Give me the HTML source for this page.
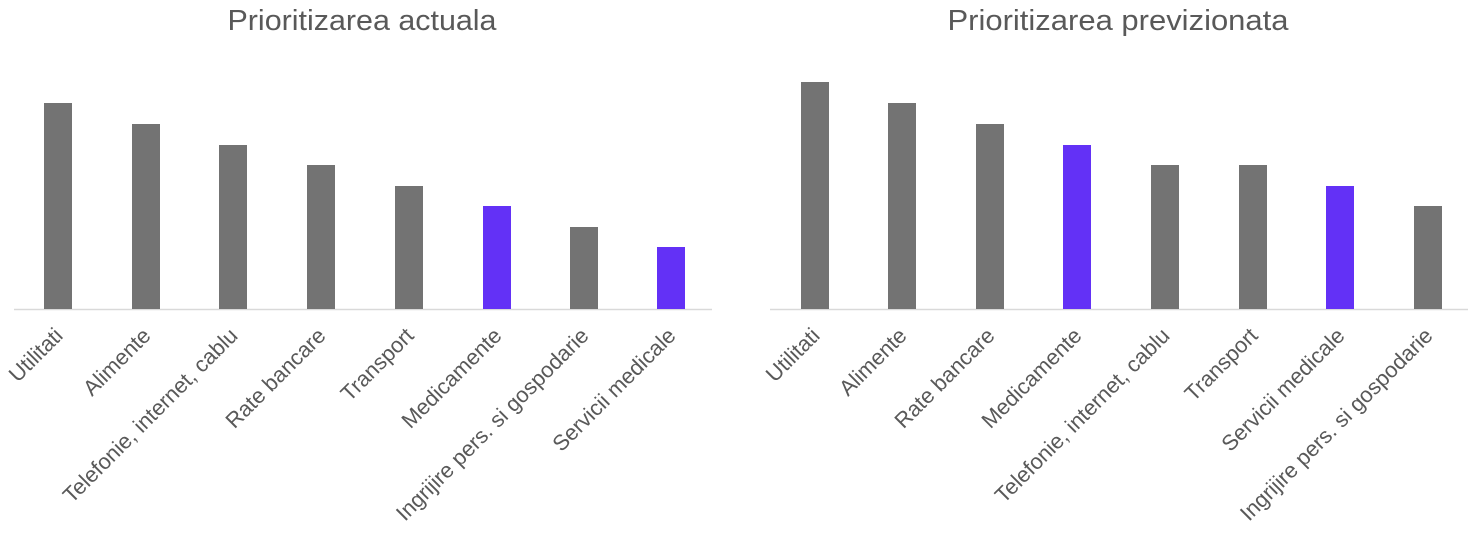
<!DOCTYPE html>
<html><head><meta charset="utf-8"><style>
html,body{margin:0;padding:0;background:#fff;}
svg{display:block;}
text{font-family:"Liberation Sans",sans-serif;fill:#595959;}
</style></head><body>
<svg width="1478" height="535" viewBox="0 0 1478 535">
<text x="362" y="30" font-size="29" text-anchor="middle" textLength="269" lengthAdjust="spacingAndGlyphs">Prioritizarea actuala</text>
<line x1="14" y1="309.5" x2="712" y2="309.5" stroke="#d9d9d9" stroke-width="1.5"/>
<g fill="#737373">
<rect x="44" y="103" width="28" height="206"/>
<rect x="132" y="124" width="28" height="185"/>
<rect x="219" y="145" width="28" height="164"/>
<rect x="307" y="165" width="28" height="144"/>
<rect x="395" y="186" width="28" height="123"/>
<rect x="483" y="206" width="28" height="103" fill="#6331F6"/>
<rect x="570" y="227" width="28" height="82"/>
<rect x="657" y="247" width="28" height="62" fill="#6331F6"/>
</g>
<g font-size="21.8" text-anchor="end">
<text transform="translate(64,337) rotate(-45)">Utilitati</text>
<text transform="translate(152,337) rotate(-45)">Alimente</text>
<text transform="translate(239,337) rotate(-45)">Telefonie, internet, cablu</text>
<text transform="translate(327,337) rotate(-45)">Rate bancare</text>
<text transform="translate(415,337) rotate(-45)">Transport</text>
<text transform="translate(503,337) rotate(-45)">Medicamente</text>
<text transform="translate(590,337) rotate(-45)">Ingrijire pers. si gospodarie</text>
<text transform="translate(677,337) rotate(-45)">Servicii medicale</text>
</g>
<text x="1118" y="30" font-size="29" text-anchor="middle" textLength="341" lengthAdjust="spacingAndGlyphs">Prioritizarea previzionata</text>
<line x1="770" y1="309.5" x2="1468" y2="309.5" stroke="#d9d9d9" stroke-width="1.5"/>
<g fill="#737373">
<rect x="801" y="82" width="28" height="227"/>
<rect x="888" y="103" width="28" height="206"/>
<rect x="976" y="124" width="28" height="185"/>
<rect x="1063" y="145" width="28" height="164" fill="#6331F6"/>
<rect x="1151" y="165" width="28" height="144"/>
<rect x="1239" y="165" width="28" height="144"/>
<rect x="1326" y="186" width="28" height="123" fill="#6331F6"/>
<rect x="1414" y="206" width="28" height="103"/>
</g>
<g font-size="21.8" text-anchor="end">
<text transform="translate(821,337) rotate(-45)">Utilitati</text>
<text transform="translate(908,337) rotate(-45)">Alimente</text>
<text transform="translate(996,337) rotate(-45)">Rate bancare</text>
<text transform="translate(1083,337) rotate(-45)">Medicamente</text>
<text transform="translate(1171,337) rotate(-45)">Telefonie, internet, cablu</text>
<text transform="translate(1259,337) rotate(-45)">Transport</text>
<text transform="translate(1346,337) rotate(-45)">Servicii medicale</text>
<text transform="translate(1434,337) rotate(-45)">Ingrijire pers. si gospodarie</text>
</g>
</svg>
</body></html>
